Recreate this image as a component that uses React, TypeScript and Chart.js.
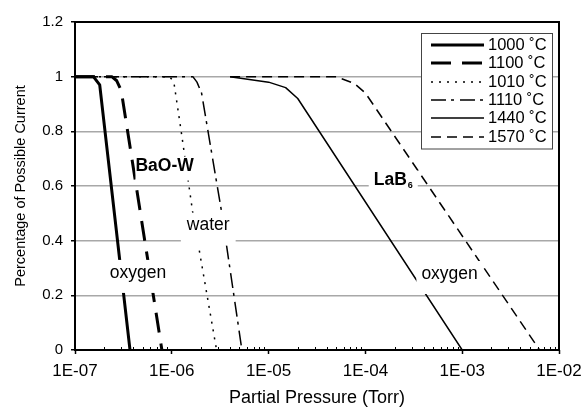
import { useEffect, useRef } from 'react';
import { Chart, registerables } from 'chart.js';

Chart.register(...registerables);

const FONT = "'Liberation Sans', Arial, Helvetica, sans-serif";

// ---- data ----
const seriesLabels = ['1000 ˚C', '1100 ˚C', '1010 ˚C', '1110 ˚C', '1440 ˚C', '1570 ˚C'];

const p1000 = [1e-7, 1.55e-7, 1.8e-7, 3.7e-7];
const c1000 = [1, 1, 0.97, 0];
const p1100 = [1e-7, 2.4e-7, 2.7e-7, 3.0e-7, 7.9e-7];
const c1100 = [1, 1, 0.985, 0.95, 0];
const p1010 = [1e-7, 9.5e-7, 1.05e-6, 1.25e-6, 1.65e-6, 2.9e-6];
const c1010 = [1, 1, 0.98, 0.8, 0.5, 0];
const p1110 = [1e-7, 1.65e-6, 1.82e-6, 2.03e-6, 3.27e-6, 5.3e-6];
const c1110 = [1, 1, 0.98, 0.94, 0.505, 0];
const p1440 = [4e-6, 1e-5, 1.5e-5, 2e-5, 1e-3];
const c1440 = [1, 0.98, 0.96, 0.92, 0];
const p1570 = [4e-6, 5e-5, 7.7e-5, 1e-4, 6.3e-3];
const c1570 = [1, 1, 0.975, 0.94, 0];

const xTickValues = [1e-7, 1e-6, 1e-5, 1e-4, 1e-3, 1e-2];
const xTickLabels = ['1E-07', '1E-06', '1E-05', '1E-04', '1E-03', '1E-02'];
const yTickValues = [0, 0.2, 0.4, 0.6, 0.8, 1, 1.2];
const yTickLabels = ['0', '0.2', '0.4', '0.6', '0.8', '1', '1.2'];

const annotationTexts = ['BaO-W', 'water', 'oxygen', 'LaB', 'oxygen'];
const annotationSubs = ['', '', '', '6', ''];
const annotationX = [8.43e-7, 2.38e-6, 4.47e-7, 1.94e-4, 7.41e-4];
const annotationY = [0.671, 0.455, 0.282, 0.62, 0.278];

// ---- styles ----
const lineWidths = [3, 3, 1.5, 1.5, 1.5, 1.5];
const lineDashes = [[], [20, 11], [2, 6], [15, 5, 3, 6], [], [10, 6]];
const annotationStyle = [
  { bold: true, padX: 0, padTop: 10, padBottom: 14 },
  { bold: false, padX: 6, padTop: 13, padBottom: 20 },
  { bold: false, padX: 5, padTop: 13, padBottom: 20 },
  { bold: true, padX: 5, padTop: 10, padBottom: 8 },
  { bold: false, padX: 5, padTop: 13, padBottom: 20 },
];

const series = [
  [p1000, c1000],
  [p1100, c1100],
  [p1010, c1010],
  [p1110, c1110],
  [p1440, c1440],
  [p1570, c1570],
];

const minorTicksPlugin = {
  id: 'minorTicks',
  afterDraw(chart: any) {
    const ctx = chart.ctx;
    const xs = chart.scales.x;
    const bottom = chart.chartArea.bottom;
    ctx.save();
    ctx.strokeStyle = '#000';
    ctx.lineWidth = 1;
    for (let d = 0; d < xTickValues.length - 1; d++) {
      for (let m = 2; m <= 9; m++) {
        const px = Math.round(xs.getPixelForValue(xTickValues[d] * m)) + 0.5;
        ctx.beginPath();
        ctx.moveTo(px, bottom);
        ctx.lineTo(px, bottom - 3);
        ctx.stroke();
      }
    }
    ctx.restore();
  },
};

const annotationsPlugin = {
  id: 'annotations',
  afterDatasetsDraw(chart: any) {
    const ctx = chart.ctx;
    const xs = chart.scales.x;
    const ys = chart.scales.y;
    ctx.save();
    annotationTexts.forEach((t, i) => {
      const st = annotationStyle[i];
      const font = `${st.bold ? 'bold ' : ''}17.5px ${FONT}`;
      const subFont = `bold 9px ${FONT}`;
      ctx.font = font;
      const w = ctx.measureText(t).width;
      let subW = 0;
      const sub = annotationSubs[i];
      if (sub) {
        ctx.font = subFont;
        subW = ctx.measureText(sub).width + 1;
      }
      const total = w + subW;
      const cx = xs.getPixelForValue(annotationX[i]);
      const cy = ys.getPixelForValue(annotationY[i]);
      ctx.fillStyle = '#fff';
      ctx.fillRect(cx - total / 2 - st.padX, cy - st.padTop, total + 2 * st.padX, st.padTop + st.padBottom);
      ctx.fillStyle = '#000';
      ctx.textAlign = 'left';
      ctx.textBaseline = 'middle';
      ctx.font = font;
      ctx.fillText(t, cx - total / 2, cy);
      if (sub) {
        ctx.font = subFont;
        ctx.textBaseline = 'alphabetic';
        ctx.fillText(sub, cx - total / 2 + w + 1, cy + 0.3465 * 17.5 + 1);
      }
    });
    ctx.restore();
  },
};

const frameLegendPlugin = {
  id: 'frameLegend',
  afterDraw(chart: any) {
    const ctx = chart.ctx;
    const a = chart.chartArea;
    ctx.save();
    ctx.strokeStyle = '#000';
    ctx.lineWidth = 2;
    ctx.strokeRect(a.left, a.top, a.right - a.left, a.bottom - a.top);

    // legend box
    const lg = { left: 421.5, top: 33.5, width: 131, height: 115.5, row0: 45, step: 18.35, s0: 431, s1: 484, tx: 488 };
    ctx.fillStyle = '#fff';
    ctx.fillRect(lg.left, lg.top, lg.width, lg.height);
    ctx.strokeStyle = '#444';
    ctx.lineWidth = 1;
    ctx.strokeRect(lg.left, lg.top, lg.width, lg.height);
    ctx.font = `16.5px ${FONT}`;
    ctx.textAlign = 'left';
    ctx.textBaseline = 'middle';
    chart.data.datasets.forEach((ds: any, i: number) => {
      const y = Math.round(lg.row0 + i * lg.step);
      ctx.strokeStyle = ds.borderColor;
      ctx.lineWidth = ds.borderWidth;
      ctx.setLineDash(ds.borderDash || []);
      ctx.beginPath();
      ctx.moveTo(lg.s0, y);
      ctx.lineTo(lg.s1, y);
      ctx.stroke();
      ctx.setLineDash([]);
      ctx.fillStyle = '#000';
      ctx.fillText(ds.label, lg.tx, y + 0.5);
    });
    ctx.restore();
  },
};

export default function App() {
  const ref = useRef<HTMLCanvasElement>(null);

  useEffect(() => {
    document.body.style.margin = '0';
    const canvas = ref.current;
    if (!canvas) return;
    const chart = new Chart(canvas, {
      type: 'line',
      data: {
        datasets: series.map(([xs, ys], i) => ({
          label: seriesLabels[i],
          data: xs.map((x, j) => ({ x, y: ys[j] })),
          borderColor: '#000',
          backgroundColor: '#000',
          borderWidth: lineWidths[i],
          borderDash: lineDashes[i],
          pointRadius: 0,
          tension: 0,
          fill: false,
          borderJoinStyle: 'round' as const,
        })),
      },
      options: {
        animation: false,
        responsive: false,
        devicePixelRatio: 1,
        layout: { padding: { left: 0, right: 25, top: 22, bottom: 0 } },
        plugins: {
          legend: { display: false },
          tooltip: { enabled: false },
        },
        scales: {
          x: {
            type: 'logarithmic',
            min: 1e-7,
            max: 1e-2,
            afterBuildTicks: (scale: any) => {
              scale.ticks = xTickValues.map((v) => ({ value: v, major: true }));
            },
            afterFit: (scale: any) => {
              scale.height = 57;
              scale.paddingLeft = 0;
              scale.paddingRight = 0;
            },
            border: { display: false },
            grid: {
              drawOnChartArea: false,
              drawTicks: true,
              tickLength: 4,
              tickColor: '#000',
              tickWidth: 1.5,
            },
            ticks: {
              autoSkip: false,
              maxRotation: 0,
              padding: 7,
              color: '#000',
              font: { family: FONT, size: 17 },
              callback: (_v: any, i: number) => xTickLabels[i],
            },
            title: {
              display: true,
              text: 'Partial Pressure (Torr)',
              color: '#000',
              font: { family: FONT, size: 18, lineHeight: 1 },
              padding: { top: 0, bottom: 0 },
            },
          },
          y: {
            type: 'linear',
            min: 0,
            max: 1.2,
            afterBuildTicks: (scale: any) => {
              scale.ticks = yTickValues.map((v) => ({ value: v }));
            },
            afterFit: (scale: any) => {
              scale.width = 75;
              scale.paddingTop = 0;
              scale.paddingBottom = 0;
            },
            border: { display: false },
            grid: {
              color: (c: any) => {
                const v = c.tick ? c.tick.value : -1;
                return v === 0 || v === 1.2 ? 'rgba(0,0,0,0)' : '#a8a8a8';
              },
              lineWidth: 1.5,
              drawTicks: true,
              tickLength: 4,
              tickColor: '#000',
              tickWidth: 1.5,
            },
            ticks: {
              padding: 8,
              color: '#000',
              font: { family: FONT, size: 15 },
              callback: (_v: any, i: number) => yTickLabels[i],
            },
            title: {
              display: true,
              text: 'Percentage of Possible Current',
              color: '#000',
              font: { family: FONT, size: 14.5, lineHeight: 1 },
              padding: { top: 13.5, bottom: 0 },
            },
          },
        },
      },
      plugins: [minorTicksPlugin, annotationsPlugin, frameLegendPlugin],
    } as any);
    return () => chart.destroy();
  }, []);

  return (
    <div style={{ width: 584, height: 407 }}>
      <canvas ref={ref} width={584} height={407} style={{ display: 'block' }} />
    </div>
  );
}
